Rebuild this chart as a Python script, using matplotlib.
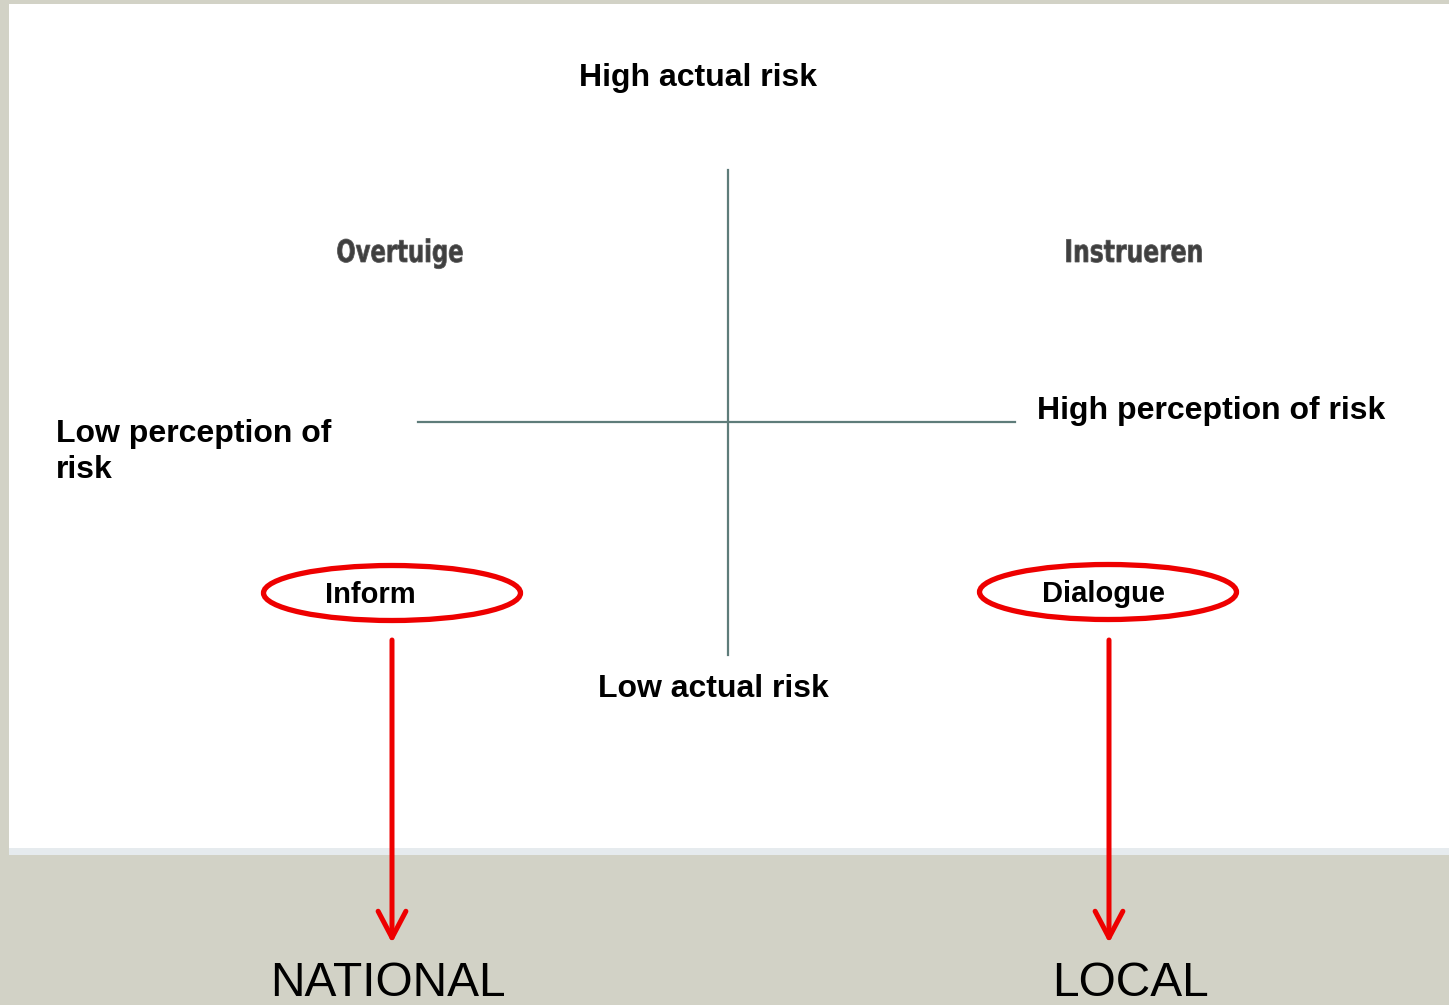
import matplotlib.pyplot as plt
from matplotlib.patches import Ellipse, Rectangle, FancyArrowPatch, PathPatch
from matplotlib.textpath import TextPath
from matplotlib.font_manager import FontProperties
from matplotlib.transforms import Affine2D

# quadrant labels
axis_labels = ['High actual risk', 'Low actual risk',
               'Low perception of\nrisk', 'High perception of risk']
quadrant_words = ['Overtuige', 'Instrueren']
strategies = ['Inform', 'Dialogue']
levels = ['NATIONAL', 'LOCAL']

W, H = 1449, 1005
fig = plt.figure(figsize=(W / 100, H / 100), dpi=100)
fig.patch.set_facecolor('#d2d2c6')
ax = fig.add_axes([0, 0, 1, 1])
ax.set_xlim(0, W)
ax.set_ylim(H, 0)
ax.axis('off')

# white slide panel with a faint shadow at the bottom
ax.add_patch(Rectangle((9, 4), W - 9, 846, facecolor='white', edgecolor='none', zorder=0))
ax.add_patch(Rectangle((9, 848), W - 9, 7, facecolor='#e6ebee', edgecolor='none', zorder=0))

# cross
line_col = '#5e7c7a'
ax.plot([728, 728], [170, 655], color=line_col, lw=1.6, zorder=1)
ax.plot([418, 1015], [422, 422], color=line_col, lw=1.6, zorder=1)

bold = dict(family='Liberation Sans', fontweight='bold', fontsize=23, color='black')
ax.text(698, 78, axis_labels[0], ha='center', va='center', **bold)
ax.text(713, 689, axis_labels[1], ha='center', va='center', **bold)
ax.text(56, 452, axis_labels[2], ha='left', va='center', linespacing=1.25, **bold)
ax.text(1037, 411, axis_labels[3], ha='left', va='center', **bold)

# condensed, scanned-looking words in the upper quadrants
fp = FontProperties(family='DejaVu Sans', weight='bold')
for x, width, word in zip([400, 1134], [125, 135], quadrant_words):
    tp = TextPath((0, 0), word, size=1, prop=fp)
    bb = tp.get_extents()
    sx = width / bb.width
    tr = Affine2D().translate(-(bb.x0 + bb.width / 2), 0).scale(sx, -31).translate(x, 262)
    ax.add_patch(PathPatch(tr.transform_path(tp), facecolor='#2a2a2a', edgecolor='#555555',
                           lw=0.6, alpha=0.9, zorder=2))

red = '#ee0000'
for x, y, word in zip([392, 1108], [593, 592], strategies):
    ax.add_patch(Ellipse((x, y), 257, 55, facecolor='none', edgecolor=red, lw=3.8, zorder=3))
    ax.text(x - 22 if word == 'Inform' else x - 5, y + 2, word, ha='center', va='center',
            family='Liberation Sans', fontweight='bold', fontsize=21)

for x in [392, 1109]:
    arr = FancyArrowPatch((x, 640), (x, 943), arrowstyle='->,head_length=1.9,head_width=1.0',
                          color=red, lw=3.6, mutation_scale=10, shrinkA=0, shrinkB=0,
                          capstyle='round', zorder=3)
    ax.add_patch(arr)

ax.text(388, 996, levels[0], ha='center', va='baseline', family='Liberation Sans', fontsize=34.5)
ax.text(1131, 996, levels[1], ha='center', va='baseline', family='Liberation Sans', fontsize=34.5)

fig.savefig('out.png', dpi=100, facecolor=fig.get_facecolor())
